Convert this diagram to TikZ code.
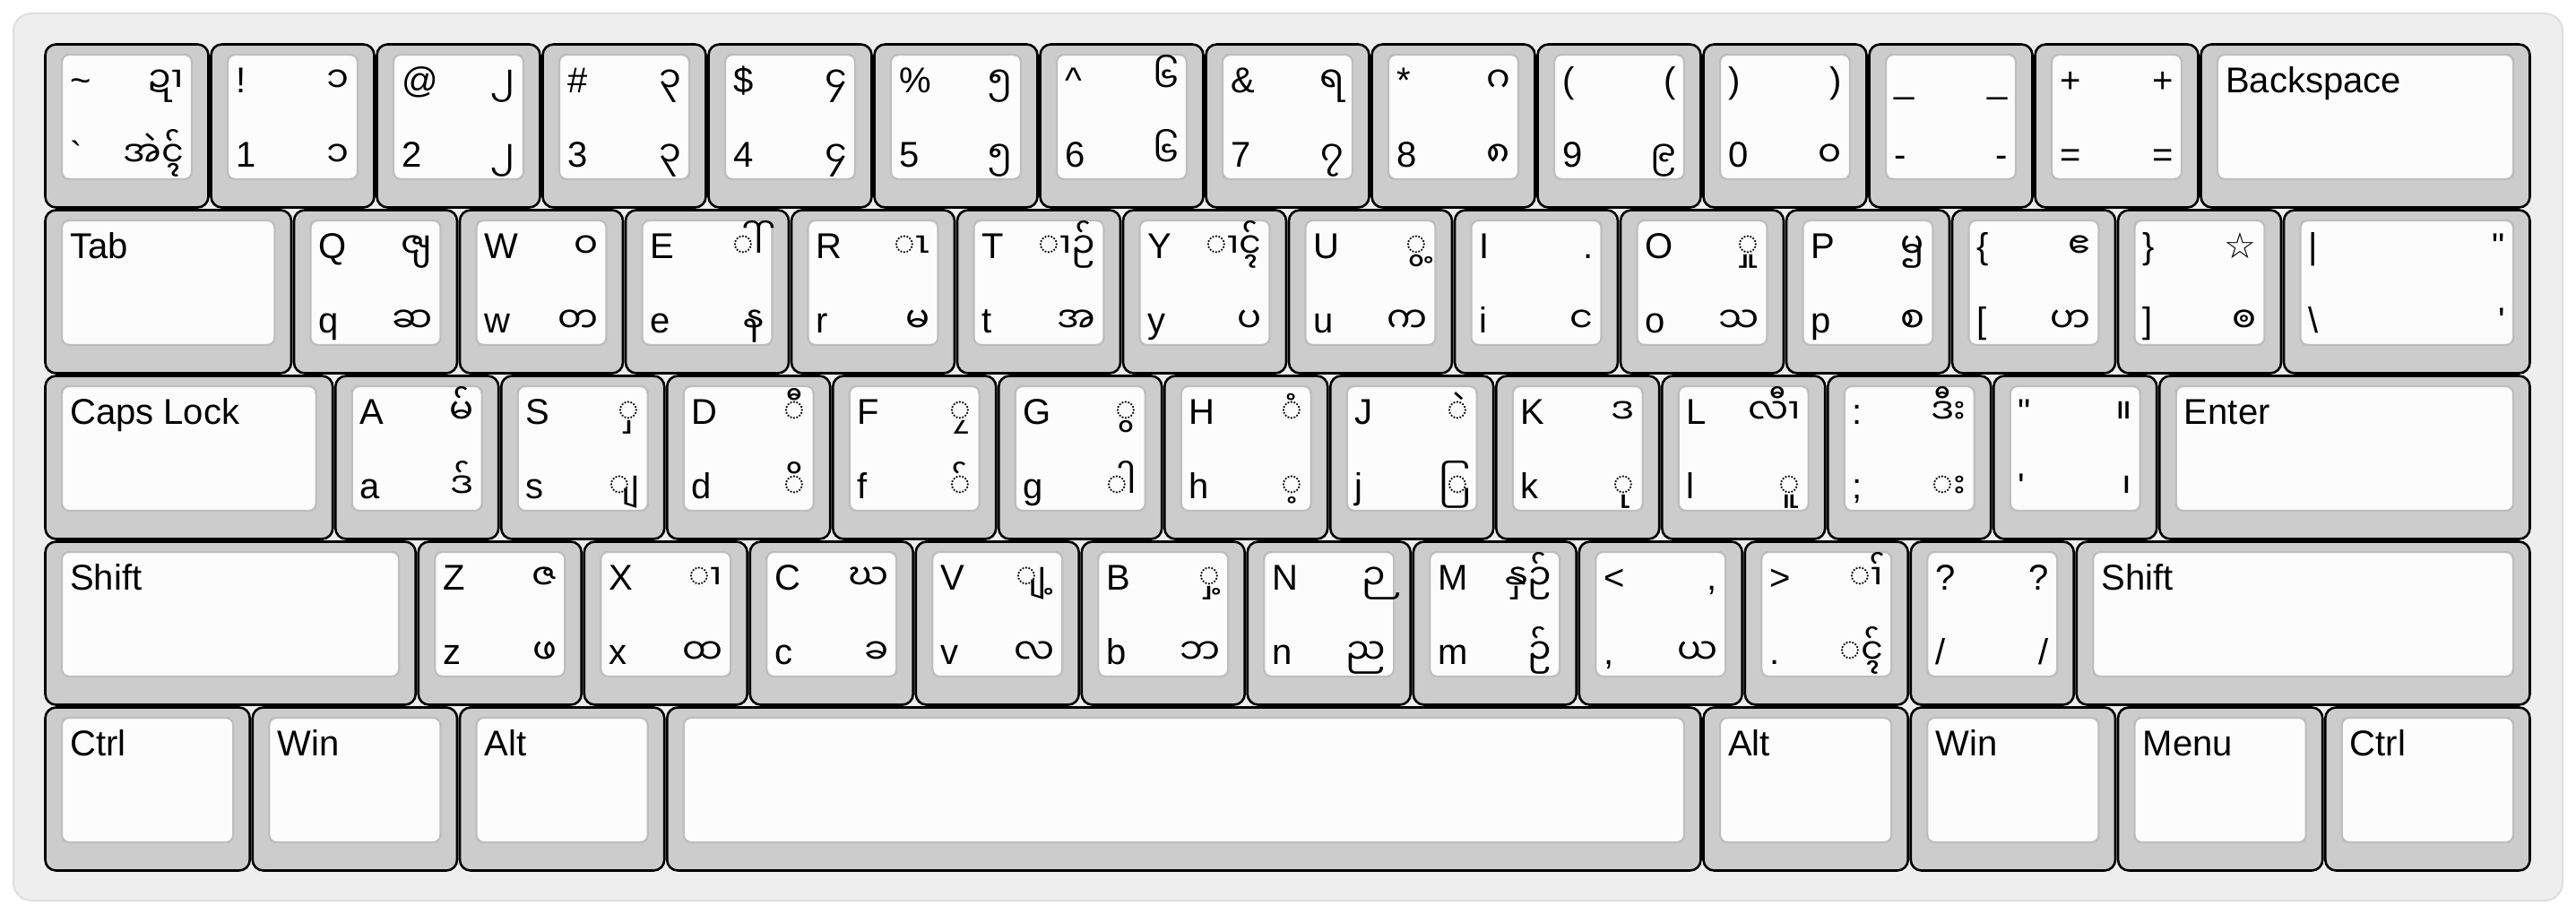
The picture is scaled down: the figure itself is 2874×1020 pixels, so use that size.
\documentclass[tikz,border=0pt]{standalone}
\usepackage{fontspec}
\usepackage{tikz}
\setmainfont{Liberation Sans}
\newfontfamily\mmfont[Script=Myanmar]{Noto Sans Myanmar UI}
\newfontfamily\lat{Liberation Sans}
\newfontfamily\symfont{DejaVu Sans}

\definecolor{capgray}{HTML}{CCCCCC}
\definecolor{topwhite}{HTML}{FCFCFC}
\definecolor{topline}{HTML}{BEBEBE}
\definecolor{panelgray}{HTML}{EEEEEE}
\definecolor{panelline}{HTML}{DEDEDE}

% one key: name, x, y (px), width (units), top left, top right, bottom left, bottom right
\newcommand{\kcap}[8]{%
  \pgfmathsetmacro\kw{#4*92.5-1.5}%
  \pgfmathsetmacro\tw{#4*92.5-20}%
  \node[keycap, minimum width=\kw pt] (k#1) at (#2+#4*92.5, #3+92.5) {};
  \node[keytop, minimum width=\tw pt] (t#1) at ([yshift=5pt]k#1.center) {};
  \node[lab, anchor=base west] at ([shift={(5pt,-22pt)}]t#1.north west) {#5};
  \node[mlab, anchor=base east] at ([shift={(-5pt,-22pt)}]t#1.north east) {#6};
  \node[lab, anchor=base west] at ([shift={(5pt,7.5pt)}]t#1.south west) {#7};
  \node[mlab, anchor=base east] at ([shift={(-5pt,7.5pt)}]t#1.south east) {#8};
}

\begin{document}
\begin{tikzpicture}[x=0.5pt,y=-0.5pt,
    keycap/.style={draw=black, line width=1.3pt, fill=capgray, rounded corners=6pt,
                   minimum height=91pt, inner sep=0pt},
    keytop/.style={draw=topline, line width=1.2pt, fill=topwhite, rounded corners=4pt,
                   minimum height=69.5pt, inner sep=0pt},
    lab/.style={font=\fontsize{20}{24}\selectfont, inner sep=0pt},
    mlab/.style={font=\fontsize{20}{24}\selectfont\mmfont, inner sep=0pt}]

  \useasboundingbox (0,0) rectangle (2874,1020);
  \draw[panelline, fill=panelgray, line width=1pt, rounded corners=10pt] (15,15) rectangle (2859,1005);

  \begin{scope}[shift={(49,48)}]
    % number row
    \foreach \nm/\tl/\tr/\bl/\br [count=\i from 0] in {
        tilde/{\textasciitilde}/{ဍၢ}/{\textasciigrave}/{အဲၚ်},
        one/{!}/{၁}/{1}/{၁}, two/{@}/{၂}/{2}/{၂}, three/{\#}/{၃}/{3}/{၃},
        four/{\$}/{၄}/{4}/{၄}, five/{\%}/{၅}/{5}/{၅}, six/{\textasciicircum}/{၆}/{6}/{၆},
        seven/{\&}/{ရ}/{7}/{၇}, eight/{*}/{ဂ}/{8}/{၈},
        nine/{(}/{\lat (}/{9}/{၉}, zero/{)}/{\lat )}/{0}/{၀},
        minus/{\_}/{\lat\_}/{-}/{\lat -}, equal/{+}/{\lat +}/{=}/{\lat =}}
      \kcap{\nm}{\i*185}{0}{1}{\tl}{\tr}{\bl}{\br};
    \kcap{bksp}{2405}{0}{2}{Backspace}{}{}{};

    % top letter row
    \kcap{tab}{0}{185}{1.5}{Tab}{}{}{};
    \foreach \nm/\tl/\tr/\bl/\br [count=\i from 0] in {
        q/Q/{ၛ}/q/{ဆ}, w/W/{ဝ}/w/{တ}, e/E/{◌ါ်}/e/{န}, r/R/{◌ၤ}/r/{မ},
        t/T/{◌ၢဉ်}/t/{အ}, y/Y/{◌ၢၚ်}/y/{ပ}, u/U/{◌ွ့}/u/{က}, i/I/{\lat .}/i/{င},
        o/O/{◌ှု}/o/{သ}, p/P/{ၝ}/p/{စ}, lbr/{\{}/{ဧ}/{[}/{ဟ}, rbr/{\}}/{\symfont ☆}/{]}/{ၜ}}
      \kcap{\nm}{277.5+\i*185}{185}{1}{\tl}{\tr}{\bl}{\br};
    \kcap{bslash}{2497.5}{185}{1.5}{|}{\lat\textquotedbl}{\textbackslash}{\lat\textquotesingle};

    % home row
    \kcap{caps}{0}{370}{1.75}{Caps Lock}{}{}{};
    \foreach \nm/\tl/\tr/\bl/\br [count=\i from 0] in {
        a/A/{မ်}/a/{ဒ်}, s/S/{◌ှ}/s/{◌ျ}, d/D/{◌ီ}/d/{◌ိ}, f/F/{◌ၠ}/f/{◌်},
        g/G/{◌ွ}/g/{◌ါ}, h/H/{◌ံ}/h/{◌့}, j/J/{◌ဲ}/j/{◌ြ}, k/K/{ဒ}/k/{◌ု},
        l/L/{လီၢ}/l/{◌ူ}, semi/{:}/{ဒီး}/{;}/{◌း}, quote/{\textquotedbl}/{။}/{\textquotesingle}/{၊}}
      \kcap{\nm}{323.75+\i*185}{370}{1}{\tl}{\tr}{\bl}{\br};
    \kcap{enter}{2358.75}{370}{2.25}{Enter}{}{}{};

    % bottom letter row
    \kcap{lshift}{0}{555}{2.25}{Shift}{}{}{};
    \foreach \nm/\tl/\tr/\bl/\br [count=\i from 0] in {
        z/Z/{ဇ}/z/{ဖ}, x/X/{◌ၢ}/x/{ထ}, c/C/{ဃ}/c/{ခ}, v/V/{◌ျ့}/v/{လ},
        b/B/{◌ှ့}/b/{ဘ}, n/N/{ဉ}/n/{ည}, m/M/{နှဉ်}/m/{ဉ်},
        comma/{<}/{\lat ,}/{,}/{ယ}, period/{>}/{◌ၢ်}/{.}/{◌ၚ်}, slash/{?}/{\lat ?}/{/}/{\lat /}}
      \kcap{\nm}{416.25+\i*185}{555}{1}{\tl}{\tr}{\bl}{\br};
    \kcap{rshift}{2266.25}{555}{2.75}{Shift}{}{}{};

    % bottom row
    \kcap{lctrl}{0}{740}{1.25}{Ctrl}{}{}{};
    \kcap{lwin}{231.25}{740}{1.25}{Win}{}{}{};
    \kcap{lalt}{462.5}{740}{1.25}{Alt}{}{}{};
    \kcap{space}{693.75}{740}{6.25}{}{}{}{};
    \kcap{ralt}{1850}{740}{1.25}{Alt}{}{}{};
    \kcap{rwin}{2081.25}{740}{1.25}{Win}{}{}{};
    \kcap{menu}{2312.5}{740}{1.25}{Menu}{}{}{};
    \kcap{rctrl}{2543.75}{740}{1.25}{Ctrl}{}{}{};
  \end{scope}
\end{tikzpicture}
\end{document}
